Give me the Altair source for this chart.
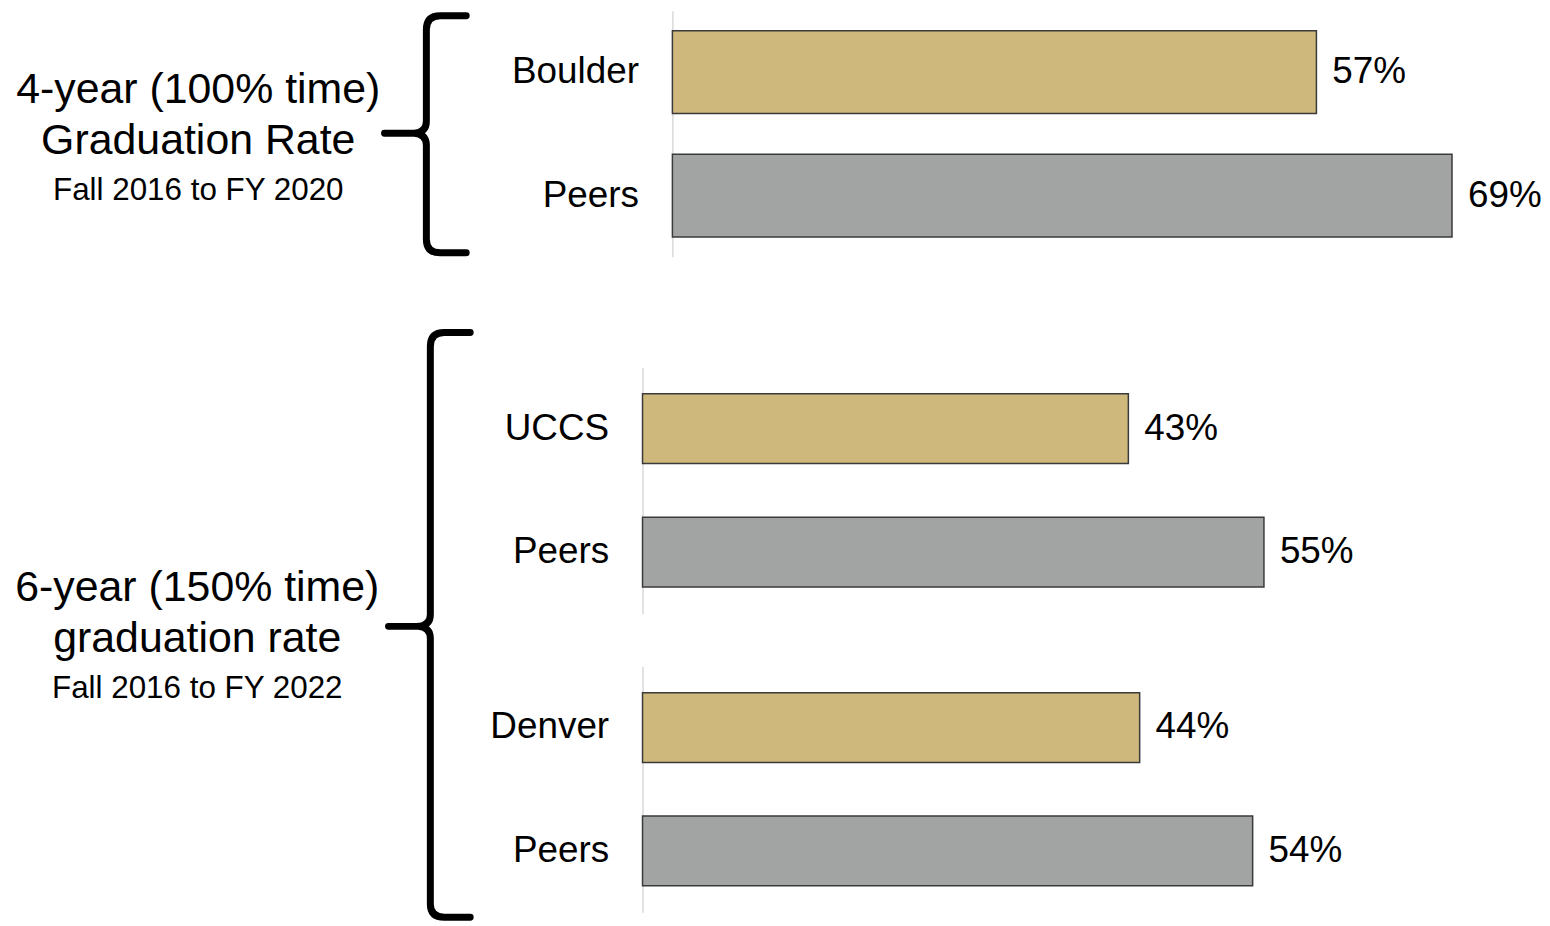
import altair as alt
import pandas as pd

FONT = "Liberation Sans"

# ---------------- data ----------------
panel_ids = ["p1", "p1", "p2", "p2", "p3", "p3"]
institutions = ["Boulder", "Peers", "UCCS", "Peers", "Denver", "Peers"]
rates = [57, 69, 43, 55, 44, 54]
kinds = ["campus", "peer", "campus", "peer", "campus", "peer"]

kind_domain = ["campus", "peer"]
kind_colors = ["#CFB87C", "#A2A4A3"]

group1_lines = ["4-year (100% time)", "Graduation Rate"]
group1_sub = "Fall 2016 to FY 2020"
group2_lines = ["6-year (150% time)", "graduation rate"]
group2_sub = "Fall 2016 to FY 2022"

df = pd.DataFrame({
    "panel": panel_ids,
    "institution": institutions,
    "rate": rates,
    "kind": kinds,
})

# brace outlines (pixel units; symbol size 4 -> scale 1)
brace_small = ("M 40 -118 L 14 -118 Q 0 -118 0 -104 L 0 -12 Q 0 -1 -12 0 L -42 0 "
               "M -12 0 Q 0 1 0 12 L 0 106 Q 0 120 14 120 L 40 120")
brace_large = ("M 40 -295 L 14 -295 Q 0 -295 0 -281 L 0 -12 Q 0 -1 -12 0 L -42 0 "
               "M -12 0 Q 0 1 0 12 L 0 279 Q 0 292 14 292 L 40 292")


def bars(pid, width, height, p_inner, p_outer):
    base = (alt.Chart(df)
            .transform_filter(alt.datum.panel == pid)
            .transform_calculate(label="datum.rate + '%'"))
    y = alt.Y("institution:N", sort=None, title=None,
              scale=alt.Scale(paddingInner=p_inner, paddingOuter=p_outer),
              axis=alt.Axis(domainColor="#d9d9d9", domainWidth=1.5, ticks=False,
                            labelFontSize=37, labelFont=FONT, labelColor="black",
                            labelPadding=34, labelLimit=400, grid=False))
    x = alt.X("rate:Q", scale=alt.Scale(domain=[0, 70]), axis=None)
    b = base.mark_bar(stroke="#3a3a3a", strokeWidth=1.5).encode(
        x=x, y=y,
        color=alt.Color("kind:N", scale=alt.Scale(domain=kind_domain, range=kind_colors),
                        legend=None))
    t = base.mark_text(align="left", baseline="middle", dx=16, fontSize=37,
                       font=FONT, color="black").encode(x=x, y=y, text="label:N")
    return alt.layer(b, t).properties(width=width, height=height)


def label_panel(lines, sub, path, width, height, cx, ys, ysub, bx, by):
    one = alt.Chart(alt.Data(values=[{"k": 1}]))
    layers = []
    for line, yy in zip(lines, ys):
        layers.append(one.mark_text(text=line, fontSize=43, font=FONT, color="black",
                                    align="center", baseline="middle")
                      .encode(x=alt.value(cx), y=alt.value(yy)))
    layers.append(one.mark_text(text=sub, fontSize=31.5, font=FONT, color="black",
                                align="center", baseline="middle")
                  .encode(x=alt.value(cx), y=alt.value(ysub)))
    layers.append(one.mark_point(shape=path, size=4, filled=False, stroke="black",
                                 strokeWidth=7, opacity=1, strokeCap="round",
                                 strokeJoin="round")
                  .encode(x=alt.value(bx), y=alt.value(by)))
    return alt.layer(*layers).properties(width=width, height=height)


BAR_W = 794

label1 = label_panel(group1_lines, group1_sub, brace_small, 664, 247,
                     188, [80, 131], 181, 417, 123)
label2 = label_panel(group2_lines, group2_sub, brace_large, 634, 547,
                     187, [222, 273], 323, 421, 260)

bars1 = bars("p1", BAR_W, 247, 0.33, 0.161)
bars2 = bars("p2", BAR_W, 247, 0.435, 0.214)
bars3 = bars("p3", BAR_W, 247, 0.435, 0.214)

row1 = alt.hconcat(label1, bars1, spacing=0, bounds="flush")
row2 = alt.hconcat(label2, alt.vconcat(bars2, bars3, spacing=53, bounds="flush"),
                   spacing=0, bounds="flush")

chart = (alt.vconcat(row1, row2, spacing=72)
         .properties(padding={"left": 3, "top": 1, "right": 0, "bottom": 0})
         .configure_view(strokeWidth=0))

chart.save("out.html", embed_options={"renderer": "svg", "actions": False})
